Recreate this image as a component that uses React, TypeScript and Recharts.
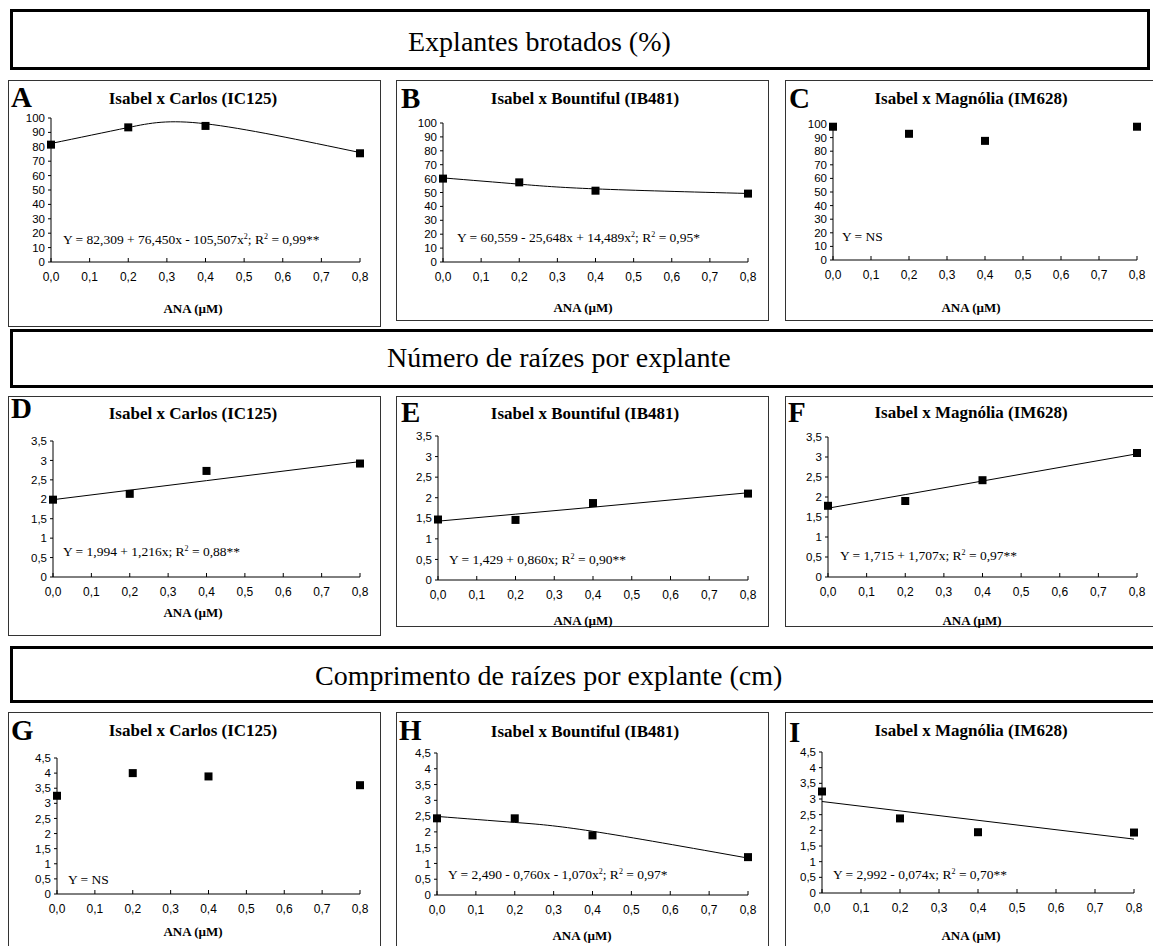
import React from 'react';
import { ComposedChart, Line, Scatter, XAxis, YAxis } from 'recharts';

// ---------- data ----------
const doses = [0, 0.2, 0.4, 0.8];
const xTicks = [0, 0.1, 0.2, 0.3, 0.4, 0.5, 0.6, 0.7, 0.8];
const pctTicks = [0, 10, 20, 30, 40, 50, 60, 70, 80, 90, 100];
const rootNumTicks = [0, 0.5, 1, 1.5, 2, 2.5, 3, 3.5];
const rootLenTicks = [0, 0.5, 1, 1.5, 2, 2.5, 3, 3.5, 4, 4.5];

const sectionTitles = [
  'Explantes brotados (%)',
  'Número de raízes por explante',
  'Comprimento de raízes por explante (cm)',
];
const panelLetters = ['A', 'B', 'C', 'D', 'E', 'F', 'G', 'H', 'I'];
const crossTitles = ['Isabel x Carlos (IC125)', 'Isabel x Bountiful (IB481)', 'Isabel x Magnólia (IM628)'];
const xAxisTitle = 'ANA (µM)';

// Explantes brotados (%)
const brotIC125 = [81.5, 93.5, 94.5, 75.5];
const brotIC125Fit = [82.3, 93.4, 96.0, 76.0];
const brotIB481 = [60, 57.3, 51.3, 49.2];
const brotIB481Fit = [60.5, 56.0, 52.6, 49.3];
const brotIM628 = [98, 92.8, 87.6, 98];

// Número de raízes por explante
const numIC125 = [1.99, 2.14, 2.73, 2.92];
const numIC125Fit = [1.99, 2.235, 2.48, 2.97];
const numIB481 = [1.47, 1.46, 1.87, 2.1];
const numIB481Fit = [1.43, 1.6, 1.77, 2.12];
const numIM628 = [1.78, 1.9, 2.42, 3.1];
const numIM628Fit = [1.72, 2.06, 2.4, 3.08];

// Comprimento de raízes por explante (cm)
const lenIC125 = [3.25, 4.0, 3.89, 3.6];
const lenIB481 = [2.43, 2.43, 1.89, 1.2];
const lenIB481Fit = [2.49, 2.3, 2.02, 1.17];
const lenIM628 = [3.24, 2.38, 1.94, 1.93];
const lenIM628Fit = [2.92, 2.62, 2.32, 1.72];

// equations: even index = normal text, odd index = superscript
const eqA = ['Y = 82,309 + 76,450x - 105,507x', '2', '; R', '2', ' = 0,99**'];
const eqB = ['Y = 60,559 - 25,648x + 14,489x', '2', '; R', '2', ' = 0,95*'];
const eqC = ['Y = NS'];
const eqD = ['Y = 1,994 + 1,216x; R', '2', ' = 0,88**'];
const eqE = ['Y = 1,429 + 0,860x; R', '2', ' = 0,90**'];
const eqF = ['Y = 1,715 + 1,707x; R', '2', ' = 0,97**'];
const eqG = ['Y = NS'];
const eqH = ['Y = 2,490 - 0,760x - 1,070x', '2', '; R', '2', ' = 0,97*'];
const eqI = ['Y = 2,992 - 0,074x; R', '2', ' = 0,70**'];

const toPts = (ys: number[]) => doses.map((x, i) => ({ x, y: ys[i] }));

const panels = [
  { pts: brotIC125, fit: brotIC125Fit, curve: 'natural', ticks: pctTicks, max: 100, eq: eqA },
  { pts: brotIB481, fit: brotIB481Fit, curve: 'natural', ticks: pctTicks, max: 100, eq: eqB },
  { pts: brotIM628, fit: null, curve: 'linear', ticks: pctTicks, max: 100, eq: eqC },
  { pts: numIC125, fit: numIC125Fit, curve: 'linear', ticks: rootNumTicks, max: 3.5, eq: eqD },
  { pts: numIB481, fit: numIB481Fit, curve: 'linear', ticks: rootNumTicks, max: 3.5, eq: eqE },
  { pts: numIM628, fit: numIM628Fit, curve: 'linear', ticks: rootNumTicks, max: 3.5, eq: eqF },
  { pts: lenIC125, fit: null, curve: 'linear', ticks: rootLenTicks, max: 4.5, eq: eqG },
  { pts: lenIB481, fit: lenIB481Fit, curve: 'natural', ticks: rootLenTicks, max: 4.5, eq: eqH },
  { pts: lenIM628, fit: lenIM628Fit, curve: 'linear', ticks: rootLenTicks, max: 4.5, eq: eqI },
];

// ---------- layout (page pixels) ----------
const layout = [
  { box: [8, 80, 373, 247], ax: 51, x8: 360, yT: 118, y0: 262, letter: [11, 107], title: [193, 104], eq: [63, 244], ana: [193, 313] },
  { box: [396, 80, 373, 241], ax: 443, x8: 748, yT: 123, y0: 262, letter: [401, 108], title: [585, 104], eq: [457, 242], ana: [583, 312] },
  { box: [785, 80, 420, 241], ax: 833, x8: 1137, yT: 124, y0: 260, letter: [789, 108], title: [971, 104], eq: [842, 241], ana: [971, 312] },
  { box: [8, 396, 373, 240], ax: 53, x8: 360, yT: 441, y0: 577, letter: [11, 418], title: [193, 419], eq: [63, 556], ana: [193, 617] },
  { box: [396, 396, 373, 231], ax: 438, x8: 748, yT: 436, y0: 580, letter: [401, 422], title: [585, 419], eq: [449, 564], ana: [583, 625] },
  { box: [785, 396, 420, 231], ax: 828, x8: 1137, yT: 437, y0: 577, letter: [788, 422], title: [971, 418], eq: [840, 560], ana: [972, 625] },
  { box: [8, 712, 373, 300], ax: 57, x8: 360, yT: 758, y0: 894, letter: [11, 740], title: [193, 736], eq: [68, 884], ana: [193, 936] },
  { box: [396, 712, 373, 300], ax: 437, x8: 748, yT: 753, y0: 895, letter: [399, 740], title: [585, 737], eq: [448, 879], ana: [582, 940] },
  { box: [785, 712, 420, 300], ax: 822, x8: 1134, yT: 752, y0: 893, letter: [789, 742], title: [971, 736], eq: [833, 879], ana: [971, 940] },
];

const headers = [
  { x: 10, y: 9, w: 1140, h: 61, tx: 408, ty: 51 },
  { x: 10, y: 329, w: 1160, h: 59, tx: 387, ty: 367 },
  { x: 10, y: 646, w: 1160, h: 57, tx: 315, ty: 685 },
];

const SERIF = '"Liberation Serif", "Times New Roman", serif';
const SANS = '"Liberation Sans", Arial, sans-serif';

const fmtX = (v: number) => v.toFixed(1).replace('.', ',');
const fmtY = (v: number) => String(v).replace('.', ',');

const XTick = (props: any) => {
  const { x, y, payload } = props;
  return (
    <g>
      <line x1={x} y1={y} x2={x} y2={y - 4} stroke="#000" strokeWidth={1} />
      <text x={x} y={y + 19} textAnchor="middle" fontSize={12} fontFamily={SANS} fill="#000">
        {fmtX(payload.value)}
      </text>
    </g>
  );
};

const Square = (props: any) => {
  const { cx, cy } = props;
  if (cx == null || cy == null) return null;
  return <rect x={cx - 4} y={cy - 4} width={8} height={8} fill="#000" />;
};

function PanelChart({ idx }: { idx: number }) {
  const p = panels[idx];
  const L = layout[idx];
  const chartLeft = L.box[0] + 1;
  const top = L.yT - 10;
  const rightM = 14;
  const w = L.x8 - chartLeft + rightM;
  const h = 10 + (L.y0 - L.yT) + 30;
  const pts = toPts(p.pts);
  const fit = p.fit ? toPts(p.fit) : null;
  return (
    <div style={{ position: 'absolute', left: chartLeft, top, width: w, height: h }}>
      <ComposedChart width={w} height={h} margin={{ top: 10, right: rightM, left: 0, bottom: 0 }}>
        <XAxis
          type="number"
          dataKey="x"
          domain={[0, 0.8]}
          ticks={xTicks}
          interval={0}
          tick={<XTick />}
          tickSize={0}
          tickMargin={0}
          tickLine={false}
          axisLine={{ stroke: '#000' }}
          height={30}
        />
        <YAxis
          type="number"
          dataKey="y"
          domain={[0, p.max]}
          ticks={p.ticks}
          interval={0}
          width={L.ax - chartLeft}
          tickSize={3}
          tickMargin={3}
          tickLine={{ stroke: '#000' }}
          axisLine={{ stroke: '#000' }}
          tick={{ fontSize: 11.5, fill: '#000', fontFamily: SANS }}
          tickFormatter={fmtY}
        />
        {fit && (
          <Line
            data={fit}
            dataKey="y"
            type={p.curve as any}
            stroke="#000"
            strokeWidth={1}
            dot={false}
            activeDot={false}
            isAnimationActive={false}
          />
        )}
        <Scatter data={pts} dataKey="y" fill="#000" shape={<Square />} isAnimationActive={false} />
      </ComposedChart>
    </div>
  );
}

function Equation({ segs, x, y }: { segs: string[]; x: number; y: number }) {
  return (
    <text x={x} y={y} fontSize={13.5} fontFamily={SERIF} fill="#000">
      {segs.map((s, i) =>
        i % 2 === 1 ? (
          <tspan key={i} fontSize={8} dy={-5}>
            {s}
          </tspan>
        ) : (
          <tspan key={i} dy={i === 0 ? 0 : 5}>
            {s}
          </tspan>
        )
      )}
    </text>
  );
}

export default function App() {
  return (
    <div
      style={{
        position: 'absolute',
        left: 0,
        top: 0,
        width: 1153,
        height: 946,
        overflow: 'hidden',
        background: '#fff',
      }}
    >
      {panels.map((_, i) => (
        <PanelChart key={i} idx={i} />
      ))}
      <svg
        width={1153}
        height={946}
        style={{ position: 'absolute', left: 0, top: 0, pointerEvents: 'none' }}
      >
        {headers.map((hd, i) => (
          <g key={'h' + i}>
            <rect x={hd.x + 1.5} y={hd.y + 1.5} width={hd.w - 3} height={hd.h - 3} fill="none" stroke="#000" strokeWidth={3} />
            <text x={hd.tx} y={hd.ty} fontSize={28} fontFamily={SERIF} fill="#000">
              {sectionTitles[i]}
            </text>
          </g>
        ))}
        {layout.map((L, i) => (
          <g key={'p' + i}>
            <rect x={L.box[0] + 0.5} y={L.box[1] + 0.5} width={L.box[2] - 1} height={L.box[3] - 1} fill="none" stroke="#333" strokeWidth={1} />
            <text x={L.letter[0]} y={L.letter[1]} fontSize={29} fontWeight="bold" fontFamily={SERIF} fill="#000">
              {panelLetters[i]}
            </text>
            <text x={L.title[0]} y={L.title[1]} fontSize={17} fontWeight="bold" fontFamily={SERIF} textAnchor="middle" fill="#000">
              {crossTitles[i % 3]}
            </text>
            <Equation segs={panels[i].eq} x={L.eq[0]} y={L.eq[1]} />
            <text x={L.ana[0]} y={L.ana[1]} fontSize={13} fontWeight="bold" fontFamily={SERIF} textAnchor="middle" fill="#000">
              {xAxisTitle}
            </text>
          </g>
        ))}
      </svg>
    </div>
  );
}
